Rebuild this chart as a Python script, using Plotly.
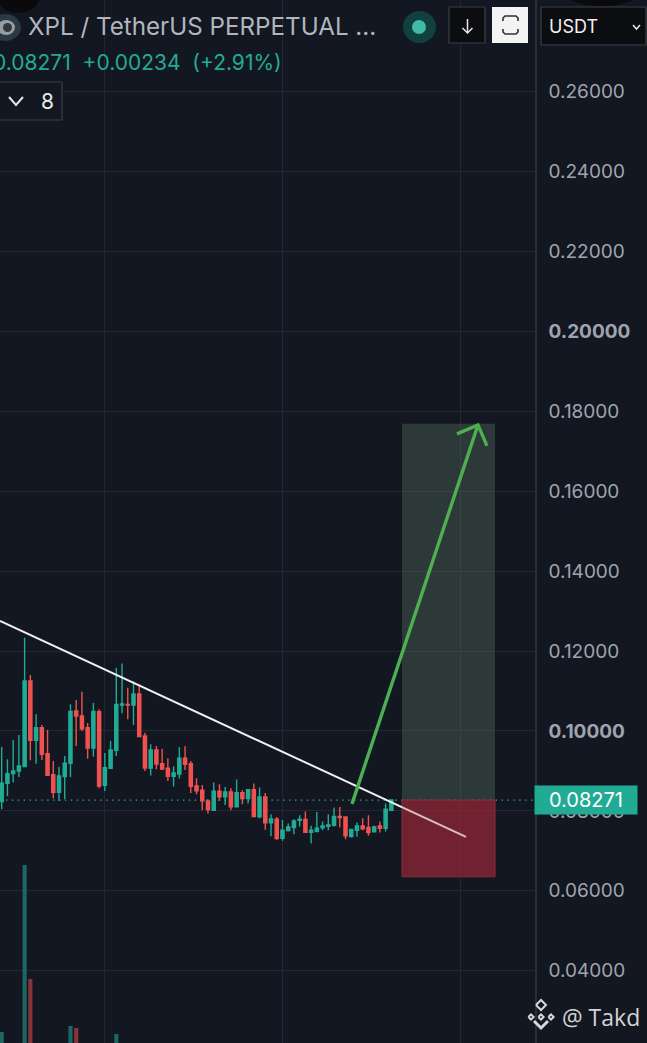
import plotly.graph_objects as go

# velas
candle_x = list(range(69))
opens = [.08233, .08692, .08933, .0900, .09108, .1125, .09767, .10083, .09433, .08908, .08467, .08858, .09192, .105, .10375, .10083, .09575,
         .10483, .08642, .09067, .09517, .1065, .10667, .1065, .10925, .09875, .09075, .09525, .09183, .09067, .08867, .08925, .09317, .09183,
         .08625, .08517, .0825, .08017, .08492, .0835, .08475, .081, .08458, .08308, .08533, .0785, .0835, .0770, .07792, .07317, .07508,
         .07583, .07767, .07783, .07467, .07483, .07575, .07617, .07642, .07858, .0785, .07358, .07517, .07625, .07583, .07475, .07625, .07567, .08017]
highs = [.0960, .09292, .09775, .0990, .12333, .1140, .10417, .1015, .10025, .0925, .09108, .09375, .10667, .10775, .10983, .102, .1070,
         .10542, .0945, .0975, .11583, .11692, .11083, .11242, .11167, .09958, .09667, .09625, .09558, .09317, .09117, .096, .09617, .0925,
         .08817, .0865, .08292, .08708, .08667, .086, .08567, .08783, .08517, .0854, .08683, .08583, .0845, .07917, .0785, .07775, .07683,
         .07792, .07892, .07983, .07625, .07975, .07733, .07917, .08083, .0810, .0785, .07542, .07708, .07817, .07892, .07625, .07733, .08183, .08271]
lows = [.08042, .08375, .08708, .0885, .0910, .09267, .09183, .09275, .08875, .08317, .0825, .08292, .0885, .09625, .1000, .09308, .09358,
        .08567, .0850, .0905, .09375, .10442, .10292, .1015, .0985, .0900, .08883, .09042, .09025, .0875, .08608, .08808, .09025, .0845,
        .08417, .08017, .07933, .0801, .0825, .0815, .08017, .08083, .08167, .08183, .0785, .07817, .07525, .07367, .07275, .0725, .07483,
        .07417, .07608, .0745, .07183, .07467, .07517, .07517, .07608, .07583, .07292, .07333, .0735, .07517, .07375, .07458, .07458, .07483, .0801]
closes = [.08692, .08933, .0900, .09125, .1125, .09767, .10083, .09417, .08892, .08467, .08875, .09192, .10492, .10375, .10058, .09575, .10492,
          .08625, .09083, .09525, .10667, .10675, .1065, .10925, .09858, .09075, .09525, .09175, .0905, .08867, .0895, .09317, .09167, .08617,
          .0850, .0825, .08033, .08492, .0835, .08475, .081, .08458, .08308, .08533, .07858, .0835, .0770, .0780, .07308, .07517, .076,
          .0775, .07792, .07467, .07517, .07567, .07625, .0765, .07858, .07833, .07375, .07533, .07625, .0755, .07458, .076, .07567, .08042, .08271]

# volumen visible abajo
vol_x = [0, 4, 5, 12, 13, 20]
vol_y = [5.5, 89, 32, 8.5, 7.5, 4.5]
vol_colors = ['#1d6662', '#1d6662', '#86333a', '#1d6662', '#86333a', '#1d6662']

price_ticks = [0.26, 0.24, 0.22, 0.20, 0.18, 0.16, 0.14, 0.12, 0.10, 0.08, 0.06, 0.04]
price_labels = ['0.26000', '0.24000', '0.22000', '<b>0.20000</b>', '0.18000', '0.16000', '0.14000',
                '0.12000', '<b>0.10000</b>', '0.08000', '0.06000', '0.04000']
time_ticks = [17.9, 49, 80]

last_price = 0.08271
target_price = 0.1769
stop_price = 0.0635
pos_start, pos_end = 69.86, 86.09
trend_x = [-0.3, 81.03]
trend_y = [0.12756, 0.0735]
arrow_x = [61.13, 83.12]
arrow_y = [0.08175, 0.17662]
head_x = [79.46, 83.12, 84.69]
head_y = [0.17437, 0.17662, 0.17139]

BG = '#121722'
GRID = '#222733'
GREEN = '#22ab94'
RED = '#f0524f'


def pw(p):
    return p / 535


def ph(p):
    return 1 - p / 1043


fig = go.Figure()
fig.add_trace(go.Bar(x=vol_x, y=vol_y, marker_color=vol_colors, marker_line_width=0, width=0.72, yaxis='y2'))
fig.add_trace(go.Candlestick(x=candle_x, open=opens, high=highs, low=lows, close=closes,
                             increasing=dict(line=dict(color=GREEN, width=1.4), fillcolor=GREEN),
                             decreasing=dict(line=dict(color=RED, width=1.4), fillcolor=RED),
                             whiskerwidth=0))

shapes = []
# linea de precio punteada
shapes.append(dict(type='line', xref='paper', yref='y', x0=0, x1=1, y0=last_price, y1=last_price,
                   line=dict(color=GREEN, width=1.2, dash='1.5px,4.4px')))
# posicion larga
shapes.append(dict(type='rect', x0=pos_start, x1=pos_end, y0=last_price, y1=target_price,
                   fillcolor='rgba(85,110,89,0.4)', line_width=0))
shapes.append(dict(type='rect', x0=pos_start, x1=pos_end, y0=stop_price, y1=last_price,
                   fillcolor='rgba(150,40,55,0.62)', line=dict(color='#8c2a38', width=1)))
# linea de tendencia, el velo rojo la tine de rosa
shapes.append(dict(type='line', x0=trend_x[0], x1=trend_x[1], y0=trend_y[0], y1=trend_y[1],
                   line=dict(color='#f0f0f0', width=2)))
shapes.append(dict(type='rect', x0=pos_start, x1=pos_end, y0=stop_price, y1=last_price,
                   fillcolor='rgba(150,40,55,0.25)', line_width=0))
# flecha verde
shapes.append(dict(type='line', x0=arrow_x[0], x1=arrow_x[1], y0=arrow_y[0], y1=arrow_y[1],
                   line=dict(color='#4caf50', width=3.4)))
shapes.append(dict(type='path', path=f'M {head_x[0]} {head_y[0]} L {head_x[1]} {head_y[1]} L {head_x[2]} {head_y[2]}',
                   line=dict(color='#4caf50', width=3.4)))


def box(x0, y0, x1, y1, fill, line='rgba(0,0,0,0)', w=1, kind='rect'):
    shapes.append(dict(type=kind, xref='paper', yref='paper', x0=pw(x0), x1=pw(x1), y0=ph(y0), y1=ph(y1),
                       fillcolor=fill, line=dict(color=line, width=w), layer='above'))


def stroke(points, color, w=2):
    path = 'M ' + ' L '.join(f'{pw(a)} {ph(b)}' for a, b in points)
    shapes.append(dict(type='path', xref='paper', yref='paper', path=path, line=dict(color=color, width=w), layer='above'))


# manchas negras arriba
box(-4, -22, 40, 13, '#0a0a0c', kind='circle')
box(560, -30, 644, 6, '#0a0a0c', kind='circle')
# logo
box(-11, 14, 21, 41, '#2a3a42', kind='circle')
box(-3, 20, 15, 35, '#9a9ea4', kind='circle')
box(3, 23, 12, 32, '#33383f', kind='circle')
# indicador verde
box(403, 11, 436, 43, '#11413f', kind='circle')
box(412, 20, 426, 34, '#3dbba6', kind='circle')
# botones
box(449, 7, 485, 43, '#0b0d10', '#3b3f47', 1.2)
stroke([(467.5, 19), (467.5, 33)], '#e8e8e8', 1.5)
stroke([(462.5, 28), (467.5, 33), (472.5, 28)], '#e8e8e8', 1.5)
box(492, 7, 528, 43, '#f4f4f4')
stroke([(503, 21), (503, 18), (505, 16), (516, 16), (518, 18), (518, 21)], '#2c3038', 1.6)
stroke([(503, 29), (503, 32), (505, 34), (516, 34), (518, 32), (518, 29)], '#2c3038', 1.6)
box(541, 7, 646, 45, '#0b0d10', '#3b3f47', 1.2)
stroke([(633, 25), (636.5, 29), (640, 25)], '#e8e8e8', 1.5)
# desplegable de indicadores
box(-6, 82, 62, 120, BG, '#3b3f47', 1.2)
stroke([(9, 97), (16, 105), (23, 97)], '#e8e8e8', 2)
# logo de binance
for cx, cy, r in [(541, 1005, 5), (531, 1017, 2.6), (551, 1017, 2.6), (541, 1017, 2.6)]:
    stroke([(cx - r, cy), (cx, cy - r), (cx + r, cy), (cx, cy + r), (cx - r, cy)], '#d8d8d8', 2)
stroke([(534, 1021), (541, 1028), (548, 1021)], '#d8d8d8', 3)

annotations = [
    dict(text='XPL / TetherUS PERPETUAL ...', x=pw(26), y=ph(27), font=dict(size=24.2, color='#b2b5be'), xanchor='left'),
    dict(text='0.08271  +0.00234  (+2.91%)', x=pw(284), y=ph(62), font=dict(size=21, color=GREEN), xanchor='right'),
    dict(text='8', x=pw(48), y=ph(101), font=dict(size=21, color='#e8e8e8'), xanchor='center'),
    dict(text='USDT', x=pw(547), y=ph(26), font=dict(size=18, color='#f0f0f0'), xanchor='left'),
    dict(text='0.08271', x=pw(585.5), y=ph(800), font=dict(size=20, color='#ffffff'), xanchor='center',
         bgcolor=GREEN, width=100, height=26),
    dict(text='@ Takd', x=pw(560), y=ph(1017), font=dict(size=23, color='#d4d4d4', family='Open Sans'), xanchor='left'),
]
for a in annotations:
    a.update(xref='paper', yref='paper', yanchor='middle', showarrow=False)

fig.update_layout(
    width=647, height=1043,
    margin=dict(l=0, r=112, t=0, b=0),
    paper_bgcolor=BG, plot_bgcolor=BG,
    showlegend=False,
    font=dict(family='Inter', color='#9a9ea8'),
    boxgap=0.22,
    shapes=shapes,
    annotations=annotations,
    xaxis=dict(range=[-0.297, 93.07], tickvals=time_ticks, showticklabels=False, ticks='',
               showgrid=True, gridcolor=GRID, gridwidth=1, zeroline=False, rangeslider=dict(visible=False)),
    yaxis=dict(range=[0.0219, 0.28298], side='right', tickvals=price_ticks, ticktext=price_labels,
               tickfont=dict(size=19, color='#a0a4ad', family='Inter'), ticks='', ticklabelstandoff=8,
               showgrid=True, gridcolor=GRID, gridwidth=1, zeroline=False,
               showline=True, linecolor='#2a2e39', linewidth=1.5),
    yaxis2=dict(range=[0, 521.5], overlaying='y', visible=False),
)

fig.write_html("out.html", config={'displayModeBar': False}, post_script="document.body.style.margin='0';")
